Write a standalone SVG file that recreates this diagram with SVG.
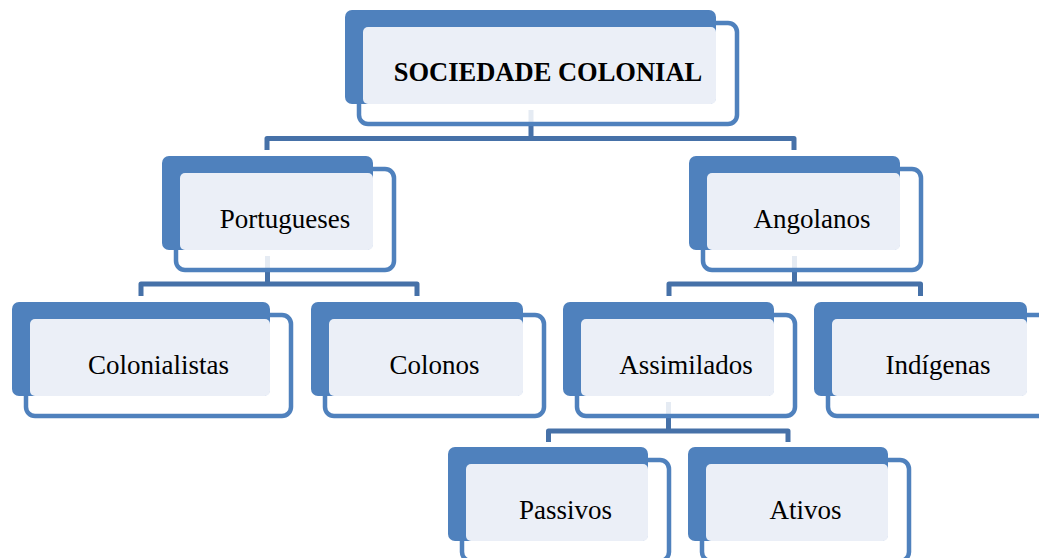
<svg xmlns="http://www.w3.org/2000/svg" width="1039" height="558" viewBox="0 0 1039 558">
<style>
.frame{fill:#FFFFFF;fill-opacity:0.86;stroke:#4F81BD;stroke-width:4.5}
.back{fill:#4F81BD}
.face{fill:#EBEFF7}
.lbl{font-family:"Liberation Serif","Times New Roman",serif;font-size:27px;fill:#000000;text-anchor:middle}
.bold{font-weight:bold;font-size:26.5px}
.conn{fill:none;stroke:#4671A8;stroke-width:5;stroke-linejoin:round}
</style>
<rect x="0" y="0" width="1039" height="558" fill="#FFFFFF"/>
<g id="connectors">
<path class="conn" d="M531,110 V138.5 M267,150 V138.5 H794 V150"/>
<path class="conn" d="M267.5,256 V284 M141,296 V284 H417 V296"/>
<path class="conn" d="M794.5,256 V284 M669,296 V284 H920.5 V296"/>
<path class="conn" d="M668.5,402 V431 M548.5,442 V431 H788 V442"/>
</g>
<g id="node-sociedade">
<rect class="frame" x="359" y="23" width="378" height="101" rx="9"/>
<rect class="back" x="345" y="10" width="371" height="94" rx="7"/>
<rect class="face" x="363" y="27" width="353" height="77" rx="5"/>
<text class="lbl bold" x="548" y="81">SOCIEDADE COLONIAL</text>
</g>
<g id="node-portugueses">
<rect class="frame" x="176" y="169" width="218" height="101" rx="9"/>
<rect class="back" x="162" y="156" width="211" height="94" rx="7"/>
<rect class="face" x="180" y="173" width="193" height="77" rx="5"/>
<text class="lbl" x="285" y="227.5">Portugueses</text>
</g>
<g id="node-angolanos">
<rect class="frame" x="703" y="169" width="218" height="101" rx="9"/>
<rect class="back" x="689" y="156" width="211" height="94" rx="7"/>
<rect class="face" x="707" y="173" width="193" height="77" rx="5"/>
<text class="lbl" x="812" y="227.5">Angolanos</text>
</g>
<g id="node-colonialistas">
<rect class="frame" x="26" y="315" width="265" height="101" rx="9"/>
<rect class="back" x="12" y="302" width="258" height="94" rx="7"/>
<rect class="face" x="30" y="319" width="240" height="77" rx="5"/>
<text class="lbl" x="158.5" y="373.5">Colonialistas</text>
</g>
<g id="node-colonos">
<rect class="frame" x="325" y="315" width="219" height="101" rx="9"/>
<rect class="back" x="311" y="302" width="212" height="94" rx="7"/>
<rect class="face" x="329" y="319" width="194" height="77" rx="5"/>
<text class="lbl" x="434.5" y="373.5">Colonos</text>
</g>
<g id="node-assimilados">
<rect class="frame" x="577" y="315" width="218" height="101" rx="9"/>
<rect class="back" x="563" y="302" width="211" height="94" rx="7"/>
<rect class="face" x="581" y="319" width="193" height="77" rx="5"/>
<text class="lbl" x="686" y="373.5">Assimilados</text>
</g>
<g id="node-indigenas">
<rect class="frame" x="828" y="315" width="220" height="101" rx="9"/>
<rect class="back" x="814" y="302" width="213" height="94" rx="7"/>
<rect class="face" x="832" y="319" width="195" height="77" rx="5"/>
<text class="lbl" x="938" y="373.5">Indígenas</text>
</g>
<g id="node-passivos">
<rect class="frame" x="462" y="460" width="207" height="101" rx="9"/>
<rect class="back" x="448" y="447" width="200" height="94" rx="7"/>
<rect class="face" x="466" y="464" width="182" height="77" rx="5"/>
<text class="lbl" x="565.5" y="519">Passivos</text>
</g>
<g id="node-ativos">
<rect class="frame" x="702" y="460" width="207" height="101" rx="9"/>
<rect class="back" x="688" y="447" width="200" height="94" rx="7"/>
<rect class="face" x="706" y="464" width="182" height="77" rx="5"/>
<text class="lbl" x="805.5" y="519">Ativos</text>
</g>
</svg>
